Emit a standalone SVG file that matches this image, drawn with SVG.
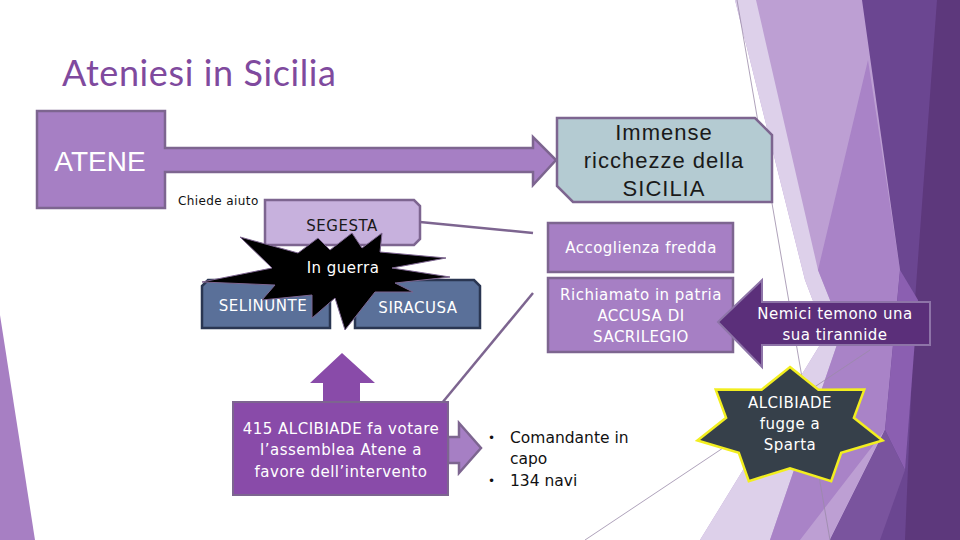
<svg xmlns="http://www.w3.org/2000/svg" width="960" height="540" viewBox="0 0 960 540">
  <defs>
    <style>
      .t { font-family: "DejaVu Sans", "Liberation Sans", sans-serif; text-anchor: middle; font-size: 15px; letter-spacing: 0.5px; }
      .w { fill: #ffffff; }
      .box { stroke: #7d6590; stroke-width: 2.5; }
      .purple { fill: #a67fc4; }
      .slate { fill: #5a7099; stroke: #2a3652; stroke-width: 2.5; }
      .conn { stroke: #7d6590; stroke-width: 2.5; fill: none; }
      .thin { stroke: #9a8aa8; stroke-width: 0.8; fill: none; }
      .big { font-family: "Liberation Sans", sans-serif; font-size: 22px; fill: #1a1a1a; text-anchor: middle; letter-spacing: 1px; }
      .bl { font-family: "DejaVu Sans", sans-serif; font-size: 15.5px; fill: #111111; }
    </style>
  </defs>

  <!-- background -->
  <g id="background">
    <rect x="0" y="0" width="960" height="540" fill="#ffffff"/>
    <polygon points="0,315 35,540 0,540" fill="#a77fc3"/>
    <polygon points="735,0 960,0 960,540 700,540 826,335 805,280" fill="#bd9fd3"/>
    <polygon points="735,0 756,0 818,270 842,330 770,540 700,540 826,335 805,280" fill="#ddd0ea"/>
    <polygon points="868,60 900,270 885,430 800,540 770,540 842,330 818,270" fill="#a983c7"/>
    <polygon points="862,0 937,0 960,80 960,540 830,540 885,430 900,270" fill="#6b4691"/>
    <polygon points="937,0 960,0 960,540 905,540 915,300" fill="#5d387c"/>
    <polygon points="900,270 918,300 905,470 885,430" fill="#8b5fb1"/>
    <polygon points="830,540 885,430 905,470 880,540" fill="#7a549e"/>
    <line class="thin" x1="737" y1="0" x2="830" y2="540"/>
    <line class="thin" x1="585" y1="540" x2="870" y2="350"/>
  </g>

  <!-- title -->
  <text id="title" x="62" y="86" font-family="Lato, 'Liberation Sans', sans-serif" font-size="36" letter-spacing="0.6" fill="#7f4a9e">Ateniesi in Sicilia</text>

  <!-- connectors -->
  <g id="connectors">
    <line class="conn" x1="420" y1="222" x2="533" y2="233"/>
    <line class="conn" x1="442" y1="403" x2="533" y2="293"/>
    <path id="arrow-up" d="M342,353 L375,383 H360 V402 H323 V383 H310 Z" fill="#894ba9"/>
    <path id="arrow-right" d="M448,437 H459 V423 L481,448 L459,473 V463 H448 Z" class="purple box"/>
  </g>

  <g id="atene">
    <path d="M37,111 H165 V148 H533 V137 L556,160 L533,185 V172 H165 V208 H37 Z" class="purple box"/>
    <text x="100" y="171" font-family="'Liberation Sans', sans-serif" font-size="28" fill="#ffffff" text-anchor="middle">ATENE</text>
  </g>

  <g id="ricchezze">
    <path d="M557,118 H755 L772,135 V202 H573 L557,186 Z" fill="#b4cbd2" class="box"/>
    <text class="big" x="664" y="140">Immense</text>
    <text class="big" x="664" y="168">ricchezze della</text>
    <text class="big" x="664" y="196">SICILIA</text>
  </g>

  <g id="chiede-aiuto">
    <text x="178" y="205" font-family="'DejaVu Sans', sans-serif" font-size="12" letter-spacing="0.4" fill="#111111">Chiede aiuto</text>
  </g>

  <g id="segesta">
    <path d="M265,200 H414 L420,206 V239 L414,245 H265 Z" fill="#c7b1dd" class="box"/>
    <text class="t" x="342" y="231" fill="#1a1a1a">SEGESTA</text>
  </g>

  <g id="selinunte">
    <path d="M208,280 H330 V328 H202 V286 Z" class="slate"/>
    <text class="t w" x="263" y="311">SELINUNTE</text>
  </g>

  <g id="siracusa">
    <path d="M355,280 H474 L480,286 V328 H355 Z" class="slate"/>
    <text class="t w" x="418" y="313">SIRACUSA</text>
  </g>

  <g id="in-guerra">
    <polygon points="240,237 298,253 318,238 330,250 352,233 362,248 382,233 380,252 446,258 392,268 450,277 395,283 413,292 375,292 345,330 335,298 312,318 312,295 262,300 275,285 202,282 272,268" fill="#000000" stroke="#7d6590" stroke-width="1"/>
    <text class="t w" x="343" y="273">In guerra</text>
  </g>

  <g id="accoglienza">
    <rect x="548" y="223" width="185" height="49" class="purple box"/>
    <text class="t w" x="641" y="253">Accoglienza fredda</text>
  </g>

  <g id="richiamato">
    <rect x="548" y="278" width="185" height="74" class="purple box"/>
    <text class="t w" x="641" y="300">Richiamato in patria</text>
    <text class="t w" x="641" y="321">ACCUSA DI</text>
    <text class="t w" x="641" y="342">SACRILEGIO</text>
  </g>

  <g id="nemici">
    <path d="M718,322 L762,280 V302 H930 V345 H762 V367 Z" fill="#5b2f7a" stroke="#8e74a8" stroke-width="2"/>
    <text class="t w" x="835" y="319">Nemici temono una</text>
    <text class="t w" x="835" y="340">sua tirannide</text>
  </g>

  <g id="alcibiade-sparta">
    <polygon points="790,367 818.4,389.7 864.3,389.6 853.9,417.8 882.6,440.4 841.2,452.8 831.2,481.1 790,468.4 748.8,481.1 738.8,452.8 697.4,440.4 726.1,417.8 715.7,389.6 761.6,389.7" fill="#36404a" stroke="#f2ee1f" stroke-width="2.5"/>
    <text class="t w" x="790" y="408">ALCIBIADE</text>
    <text class="t w" x="790" y="429">fugge a</text>
    <text class="t w" x="790" y="450">Sparta</text>
  </g>

  <g id="alcibiade-415">
    <rect x="233" y="402" width="215" height="93" fill="#894ba9" stroke="#7d6590" stroke-width="2"/>
    <text class="t w" x="341" y="434" letter-spacing="0.4">415 ALCIBIADE fa votare</text>
    <text class="t w" x="341" y="455" letter-spacing="0.4">l’assemblea Atene a</text>
    <text class="t w" x="341" y="477" letter-spacing="0.4">favore dell’intervento</text>
  </g>

  <g id="comandante">
    <text x="488" y="442" font-family="'DejaVu Sans', sans-serif" font-size="12" fill="#111111">•</text>
    <text class="bl" x="510" y="443">Comandante in</text>
    <text class="bl" x="510" y="464">capo</text>
    <text x="488" y="485" font-family="'DejaVu Sans', sans-serif" font-size="12" fill="#111111">•</text>
    <text class="bl" x="510" y="486">134 navi</text>
  </g>
</svg>
